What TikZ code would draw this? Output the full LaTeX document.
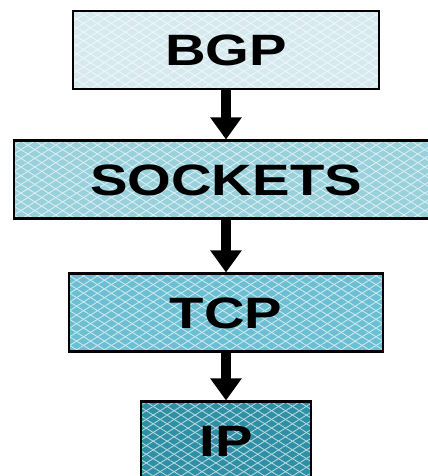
\documentclass[tikz,border=0pt]{standalone}
\usepackage{fontspec}
\setmainfont{Liberation Sans}
\usepackage{graphicx}
\usepackage{tikz}
\usetikzlibrary{positioning}
\usetikzlibrary{arrows.meta}
\usetikzlibrary{patterns.meta}
\usepackage{xcolor}
\definecolor{bgpblue}{HTML}{D5E9EF}
\definecolor{sockblue}{HTML}{98D0DC}
\definecolor{tcpblue}{HTML}{6CBFD2}
\definecolor{ipblue}{HTML}{2F8FA5}

\newcommand{\layertext}[1]{\fontsize{25pt}{28pt}\selectfont\bfseries\scalebox{1.28}[1]{#1}}

\begin{document}
\begin{tikzpicture}[x=1mm,y=1mm,
layer/.style={line width=1.7pt,minimum height=15.6mm,inner sep=0pt,
  preaction={fill=#1},
  preaction={pattern={Lines[angle=32,distance=4.2pt,line width=0.5pt]},pattern color=white!65!#1},
  preaction={pattern={Lines[angle=-32,distance=4.2pt,line width=0.5pt]},pattern color=white!65!#1},
  draw=black},
down/.style={line width=2mm,-{Triangle[width=6mm,length=4.4mm]}}]
\useasboundingbox (0,0) rectangle (85.6,95.2);
\clip (0,0) rectangle (85.6,95.2);

\node[layer=bgpblue,minimum width=61.2mm] (bgp) at (45.2,85.2) {\layertext{BGP}};
\node[layer=sockblue,minimum width=84.8mm,below=9.8mm of bgp] (sockets) {\layertext{SOCKETS}};
\node[layer=tcpblue,minimum width=62.8mm,below=10.4mm of sockets] (tcp) {\layertext{TCP}};
\node[layer=ipblue,minimum width=34mm,below=9.4mm of tcp] (ip) {\layertext{IP}};

\draw[down] (bgp) -- (sockets);
\draw[down] (sockets) -- (tcp);
\draw[down] (tcp) -- (ip);
\end{tikzpicture}
\end{document}
